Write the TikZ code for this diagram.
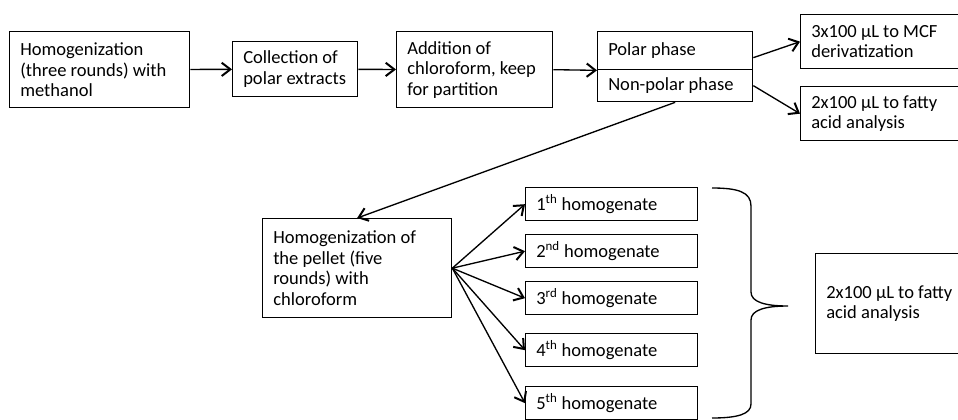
\documentclass[tikz,border=0pt]{standalone}
\usepackage{fontspec}
\setmainfont{Carlito}
\usetikzlibrary{arrows.meta,calc}
\newcommand\mybox[6]{\node[box, minimum width={#4*0.75pt}, minimum height={#5*0.75pt}] (#1) at (#2,#3) {};
  \node[txt] (#1-t) at ([xshift=8.25pt]#1.west) {#6};}
\begin{document}
\begin{tikzpicture}[x=0.75pt,y=-0.75pt,
  box/.style={draw, line width=1pt, anchor=north west, inner sep=0pt},
  txt/.style={anchor=west, align=left, inner sep=0pt, font=\fontsize{13.9}{15.3}\selectfont},
  arr/.style={line width=1pt, -{Straight Barb[length=6.5pt,width=10pt,line width=1.5pt]}},
  bracestyle/.style={line width=1pt}]
\useasboundingbox (0,0) rectangle (958,419);
\mybox{b1}{9}{31}{180}{76}{Homogenization\\(three rounds) with\\methanol}
\mybox{b2}{232}{41}{125}{55}{Collection of\\polar extracts}
\mybox{b3}{396}{31}{156}{76}{Addition of\\chloroform, keep\\for partition}
\mybox{polar}{597}{31}{155}{38}{Polar phase}
\mybox{nonpolar}{597}{69}{155}{32}{Non-polar phase}
\mybox{b5}{800}{14}{166}{54}{3x100 µL to MCF\\derivatization}
\mybox{b6}{800}{86}{166}{54}{2x100 µL to fatty\\acid analysis}
\mybox{b7}{262}{218}{189}{99}{Homogenization of\\the pellet (five\\rounds) with\\chloroform}
\mybox{h1}{525}{187}{172}{33}{1\textsuperscript{th} homogenate}
\mybox{h2}{525}{234}{172}{33}{2\textsuperscript{nd} homogenate}
\mybox{h3}{525}{281}{172}{33}{3\textsuperscript{rd} homogenate}
\mybox{h4}{525}{333}{172}{33}{4\textsuperscript{th} homogenate}
\mybox{h5}{525}{386}{172}{33}{5\textsuperscript{th} homogenate}
\mybox{b8}{815}{253}{151}{100}{2x100 µL to fatty\\acid analysis}
\draw[arr] (b1) -- (b2);
\draw[arr] (b2) -- (b3);
\draw[arr] (b3.east) -- (polar.south west);
\draw[arr] ($(polar.east)+(0,7)$) -- (b5.west);
\draw[arr] (nonpolar.east) -- (b6.west);
\draw[arr] (nonpolar.south) -- (b7.north);
\foreach \h in {h1,h2,h3,h4,h5} \draw[arr] (b7.east) -- (\h.west);
\draw[bracestyle] (712,188) .. controls (738,188) and (751,192) .. (751,206) -- (751,292) .. controls (751,302) and (765,306) .. (788,306) .. controls (765,306) and (751,310) .. (751,320) -- (751,404) .. controls (751,414) and (738,418) .. (712,418);
\end{tikzpicture}
\end{document}
